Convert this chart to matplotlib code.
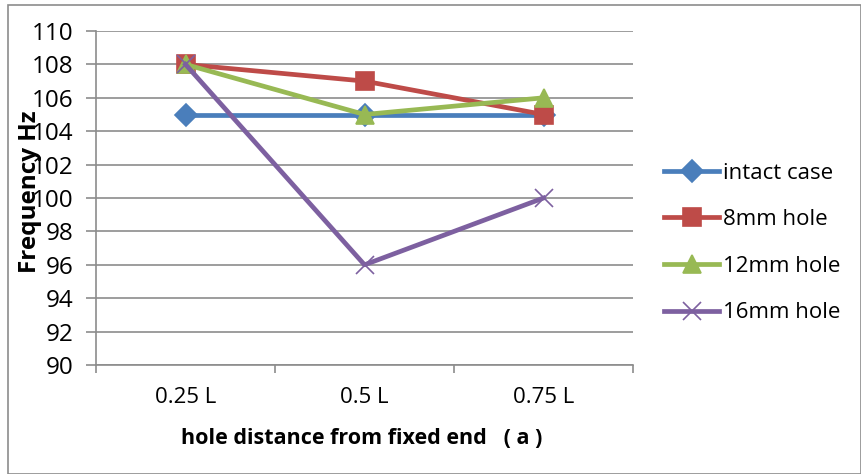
import matplotlib
matplotlib.use("Agg")
import matplotlib.pyplot as plt
from matplotlib.patches import Rectangle
import numpy as np

# data
categories = ["0.25 L", "0.5 L", "0.75 L"]
intact = [105, 105, 105]
hole8 = [108, 107, 105]
hole12 = [108, 105, 106]
hole16 = [108, 96, 100]
series_names = ["intact case", "8mm hole", "12mm hole", "16mm hole"]

plt.rcParams['font.family'] = ['Open Sans', 'DejaVu Sans']

W, H = 861, 474
fig = plt.figure(figsize=(W / 100, H / 100), dpi=100)
fig.patch.set_facecolor("white")
ax = fig.add_axes([96 / W, 1 - 365 / H, (633 - 96) / W, (365 - 31) / H])

# outer border of chart area
fig.add_artist(Rectangle((8 / W, 0), (W - 8) / W, 1 - 5 / H, transform=fig.transFigure,
                         fill=False, edgecolor="#8c8c8c", lw=1.2))

x = np.arange(len(categories))
styles = [
    (intact, "#4a7ebb", "D", 11),
    (hole8, "#be4b48", "s", 13),
    (hole12, "#98b954", "^", 13),
    (hole16, "#7d60a0", "x", 13),
]
handles = []
for (vals, col, mk, ms), name in zip(styles, series_names):
    ln, = ax.plot(x, vals, color=col, lw=3.4, marker=mk, markersize=ms,
                  markerfacecolor=col, markeredgecolor=col, markeredgewidth=1.2,
                  label=name, solid_joinstyle="round", clip_on=False, zorder=3)
    handles.append(ln)

ax.set_xlim(-0.5, 2.5)
ax.set_ylim(90, 110)
ax.set_yticks(np.arange(90, 111, 2))
ax.set_xticks(x)
ax.set_xticklabels(categories)
ax.set_xticks([-0.5, 0.5, 1.5, 2.5], minor=True)
ax.tick_params(axis="x", which="major", length=0, pad=16, labelsize=16)
ax.tick_params(axis="x", which="minor", length=6, color="#8c8c8c", width=1.2)
ax.tick_params(axis="y", length=7, color="#8c8c8c", width=1.2, labelsize=17.5, pad=9)
ax.grid(axis="y", color="#8c8c8c", lw=1.2)
ax.set_axisbelow(True)
for side in ["top", "right"]:
    ax.spines[side].set_visible(False)
for side in ["left", "bottom"]:
    ax.spines[side].set_color("#8c8c8c")
    ax.spines[side].set_linewidth(1.2)

fig.text(30 / W, 1 - 192 / H, "Frequency Hz", rotation=90, ha="center", va="center",
         fontsize=17.5, fontweight="bold")
fig.text(362 / W, 1 - 439 / H, "hole distance from fixed end   ( a )", ha="center", va="center",
         fontsize=15.5, fontweight="bold")

fig.legend(handles=handles, loc="center left", bbox_to_anchor=(655 / W, 1 - 243 / H),
           frameon=False, fontsize=16, handlelength=2.5, labelspacing=1.15,
           handletextpad=0.15, borderaxespad=0)

fig.savefig("out.png", dpi=100)
